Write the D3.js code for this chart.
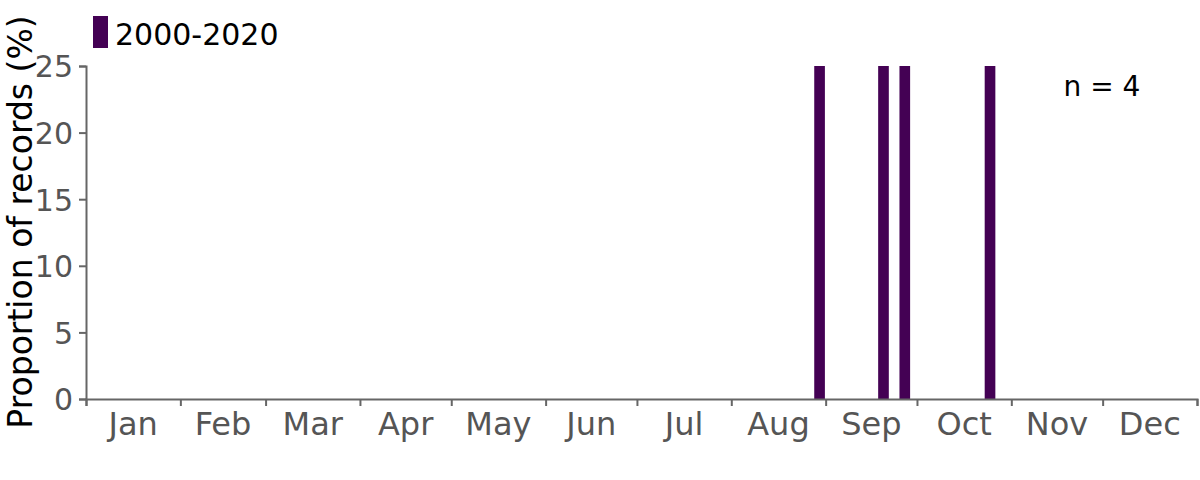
<!DOCTYPE html>
<html>
<head>
<meta charset="utf-8">
<script src="https://cdn.jsdelivr.net/npm/d3@7"></script>
<style>
  body { margin: 0; background: #fff; }
  text { font-family: "DejaVu Sans", sans-serif; }
</style>
</head>
<body>
<svg id="chart" width="1200" height="480"></svg>
<script>
// month labels and lengths (non leap year)
var months = ["Jan", "Feb", "Mar", "Apr", "May", "Jun", "Jul", "Aug", "Sep", "Oct", "Nov", "Dec"];
var monthDays = [31, 28, 31, 30, 31, 30, 31, 31, 30, 31, 30, 31];
// weekly bins (0-indexed week of year) with records
var weeks = [34, 37, 38, 42];
var proportions = [25, 25, 25, 25];
var yTicks = [0, 5, 10, 15, 20, 25];
var seriesName = "2000-2020";
var nLabel = "n = 4";

var svg = d3.select("#chart");
var mLeft = 86, mRight = 1197, mTop = 66, mBottom = 399;
var barColor = "#440154";

var x = d3.scaleLinear().domain([0, 365]).range([mLeft, mRight]);
var y = d3.scaleLinear().domain([0, 25]).range([mBottom, mTop]);

// month boundaries
var starts = [0];
monthDays.forEach(function(d, i) { starts.push(starts[i] + d); });

// bars
var barW = x(7) - x(0);
svg.append("g").selectAll("rect").data(weeks).enter().append("rect")
  .attr("x", function(d) { return x(d * 7 + 3) - barW * 0.25; })
  .attr("width", barW * 0.5)
  .attr("y", function(d, i) { return y(proportions[i]); })
  .attr("height", function(d, i) { return y(0) - y(proportions[i]); })
  .attr("fill", barColor);

// y axis
var yAxis = d3.axisLeft(y).tickValues(yTicks).tickSize(7).tickPadding(6);
var gy = svg.append("g").attr("transform", "translate(" + mLeft + ",0)").call(yAxis);
gy.select(".domain").attr("stroke", "#666").attr("stroke-width", 2);
gy.selectAll(".tick line").attr("stroke", "#666").attr("stroke-width", 2);
gy.selectAll(".tick text").attr("fill", "#555").style("font-size", "30px")
  .style("font-family", "DejaVu Sans").attr("dy", "0.36em");

// x axis: ticks at month boundaries, labels centered in months
var xAxis = d3.axisBottom(x).tickValues(starts).tickSize(7).tickFormat("");
var gx = svg.append("g").attr("transform", "translate(0," + mBottom + ")").call(xAxis);
gx.select(".domain").attr("stroke", "#666").attr("stroke-width", 2);
gx.selectAll(".tick line").attr("stroke", "#666").attr("stroke-width", 2);
gx.selectAll(".mlabel").data(months).enter().append("text")
  .attr("class", "mlabel")
  .attr("x", function(d, i) { return x(starts[i] + monthDays[i] / 2); })
  .attr("y", 36)
  .attr("text-anchor", "middle")
  .attr("fill", "#555")
  .style("font-size", "32px")
  .text(function(d) { return d; });

// y title
svg.append("text")
  .attr("transform", "translate(32,222) rotate(-90)")
  .attr("text-anchor", "middle")
  .attr("fill", "#000")
  .style("font-size", "33px")
  .text("Proportion of records (%)");

// legend
svg.append("rect").attr("x", 93).attr("y", 16).attr("width", 15).attr("height", 32).attr("fill", barColor);
svg.append("text").attr("x", 115).attr("y", 45).attr("fill", "#000").style("font-size", "30px").text(seriesName);

// n label
svg.append("text").attr("x", 1102).attr("y", 96).attr("text-anchor", "middle").attr("fill", "#000").style("font-size", "28px").text(nLabel);
</script>
</body>
</html>
